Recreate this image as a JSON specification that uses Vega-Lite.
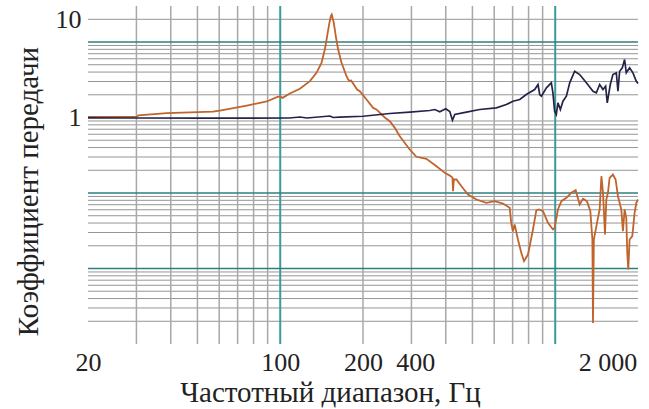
{
  "$schema": "https://vega.github.io/schema/vega-lite/v6.json",
  "width": 550,
  "height": 338,
  "autosize": "none",
  "padding": {"left": 88, "top": 6, "right": 11, "bottom": 65},
  "background": "white",
  "config": {"view": {"stroke": null}, "font": "Liberation Serif"},
  "datasets": {
    "vminor": [{"f": 30}, {"f": 40}, {"f": 50}, {"f": 60}, {"f": 70}, {"f": 80}, {"f": 90}, {"f": 200}, {"f": 300}, {"f": 400}, {"f": 500}, {"f": 600}, {"f": 700}, {"f": 800}, {"f": 900}],
    "vdecade": [{"f": 100}, {"f": 1000}],
    "hminor": [{"v": 0.002}, {"v": 0.003}, {"v": 0.004}, {"v": 0.005}, {"v": 0.006}, {"v": 0.007}, {"v": 0.008}, {"v": 0.009},
               {"v": 0.02}, {"v": 0.03}, {"v": 0.04}, {"v": 0.05}, {"v": 0.06}, {"v": 0.07}, {"v": 0.08}, {"v": 0.09},
               {"v": 0.2}, {"v": 0.3}, {"v": 0.4}, {"v": 0.5}, {"v": 0.6}, {"v": 0.7}, {"v": 0.8}, {"v": 0.9},
               {"v": 2}, {"v": 3}, {"v": 4}, {"v": 5}, {"v": 6}, {"v": 7}, {"v": 8}, {"v": 9}, {"v": 20}],
    "hdecade": [{"v": 0.01}, {"v": 0.1}, {"v": 10}],
    "brown": [
      {"f": 20, "v": 1.02}, {"f": 30.1, "v": 1.02}, {"f": 30.5, "v": 1.07}, {"f": 38.7, "v": 1.14}, {"f": 56.9, "v": 1.2},
      {"f": 60.3, "v": 1.23}, {"f": 75.6, "v": 1.44}, {"f": 89.4, "v": 1.63}, {"f": 97.2, "v": 1.86}, {"f": 99.7, "v": 1.9},
      {"f": 102, "v": 1.82}, {"f": 108.4, "v": 2.08}, {"f": 117.9, "v": 2.4}, {"f": 128.2, "v": 3.03}, {"f": 135.5, "v": 3.91},
      {"f": 141.3, "v": 5.3}, {"f": 145.3, "v": 7.96}, {"f": 148.1, "v": 11.9}, {"f": 150.6, "v": 17.1}, {"f": 152.8, "v": 22},
      {"f": 154, "v": 23.1}, {"f": 156.6, "v": 18}, {"f": 159.3, "v": 11.9}, {"f": 162.4, "v": 7.96}, {"f": 167.1, "v": 5.3},
      {"f": 174.2, "v": 3.52}, {"f": 176.6, "v": 3.19}, {"f": 179.1, "v": 3.03}, {"f": 181, "v": 3.1}, {"f": 190.4, "v": 2.35},
      {"f": 194.7, "v": 2.23}, {"f": 206, "v": 1.73}, {"f": 217.7, "v": 1.34}, {"f": 223.8, "v": 1.28}, {"f": 240, "v": 1.0},
      {"f": 250.3, "v": 0.893}, {"f": 261, "v": 0.73}, {"f": 272.2, "v": 0.565}, {"f": 295.8, "v": 0.377}, {"f": 312.9, "v": 0.302},
      {"f": 340.2, "v": 0.284}, {"f": 370, "v": 0.226}, {"f": 396.6, "v": 0.185}, {"f": 413.6, "v": 0.17}, {"f": 423, "v": 0.16},
      {"f": 425, "v": 0.106}, {"f": 428, "v": 0.151}, {"f": 437.4, "v": 0.151}, {"f": 456, "v": 0.123}, {"f": 481.8, "v": 0.0955},
      {"f": 517, "v": 0.082}, {"f": 562, "v": 0.0742}, {"f": 602, "v": 0.0779}, {"f": 646, "v": 0.0726}, {"f": 683, "v": 0.0637},
      {"f": 693, "v": 0.0383}, {"f": 702, "v": 0.0312}, {"f": 712, "v": 0.0383}, {"f": 732, "v": 0.0242}, {"f": 753, "v": 0.0161},
      {"f": 770, "v": 0.0125}, {"f": 796, "v": 0.0153}, {"f": 812, "v": 0.0219}, {"f": 830, "v": 0.0329}, {"f": 854, "v": 0.0592},
      {"f": 873, "v": 0.0605}, {"f": 903, "v": 0.0574}, {"f": 941, "v": 0.0403}, {"f": 981, "v": 0.0329}, {"f": 995, "v": 0.0346},
      {"f": 1023, "v": 0.0605}, {"f": 1053, "v": 0.0779}, {"f": 1098, "v": 0.0864}, {"f": 1145, "v": 0.1006}, {"f": 1187, "v": 0.109},
      {"f": 1227, "v": 0.0704}, {"f": 1262, "v": 0.0838}, {"f": 1304, "v": 0.0779}, {"f": 1342, "v": 0.0574}, {"f": 1365, "v": 0.0242},
      {"f": 1372, "v": 0.0019}, {"f": 1382, "v": 0.0242}, {"f": 1419, "v": 0.0403}, {"f": 1451, "v": 0.0605}, {"f": 1472, "v": 0.167},
      {"f": 1492, "v": 0.1006}, {"f": 1504, "v": 0.0547}, {"f": 1517, "v": 0.0282}, {"f": 1534, "v": 0.082}, {"f": 1555, "v": 0.1006},
      {"f": 1577, "v": 0.159}, {"f": 1621, "v": 0.1758}, {"f": 1658, "v": 0.151}, {"f": 1691, "v": 0.0907}, {"f": 1739, "v": 0.0605},
      {"f": 1763, "v": 0.0312}, {"f": 1788, "v": 0.0605}, {"f": 1813, "v": 0.0469}, {"f": 1828, "v": 0.0161}, {"f": 1844, "v": 0.0097},
      {"f": 1864, "v": 0.0242}, {"f": 1907, "v": 0.0268}, {"f": 1944, "v": 0.0547}, {"f": 1972, "v": 0.0742}, {"f": 2000, "v": 0.082}
    ],
    "navy": [
      {"f": 20, "v": 0.99}, {"f": 30, "v": 0.985}, {"f": 51, "v": 0.98}, {"f": 108, "v": 0.985}, {"f": 118, "v": 1.015},
      {"f": 125, "v": 0.985}, {"f": 151.5, "v": 1.047}, {"f": 155.8, "v": 1.0}, {"f": 164.7, "v": 1.01}, {"f": 200.2, "v": 1.04},
      {"f": 250.3, "v": 1.13}, {"f": 295.8, "v": 1.176}, {"f": 349.8, "v": 1.238}, {"f": 364.8, "v": 1.276}, {"f": 380.4, "v": 1.19},
      {"f": 399.8, "v": 1.304}, {"f": 413.6, "v": 1.2}, {"f": 423, "v": 0.921}, {"f": 431.2, "v": 1.096}, {"f": 475.6, "v": 1.176},
      {"f": 531.4, "v": 1.276}, {"f": 611, "v": 1.344}, {"f": 664, "v": 1.486}, {"f": 702, "v": 1.644}, {"f": 743, "v": 1.731},
      {"f": 785, "v": 2.017}, {"f": 842, "v": 2.349}, {"f": 866, "v": 2.736}, {"f": 878, "v": 2.017}, {"f": 891, "v": 1.915},
      {"f": 929, "v": 2.474}, {"f": 968, "v": 2.882}, {"f": 981, "v": 2.125}, {"f": 995, "v": 1.212}, {"f": 1009, "v": 1.096},
      {"f": 1023, "v": 1.565}, {"f": 1044, "v": 1.276}, {"f": 1067, "v": 1.644}, {"f": 1098, "v": 1.915}, {"f": 1129, "v": 2.882},
      {"f": 1177, "v": 4.105}, {"f": 1227, "v": 3.711}, {"f": 1298, "v": 2.882}, {"f": 1372, "v": 2.23}, {"f": 1411, "v": 2.125},
      {"f": 1451, "v": 2.736}, {"f": 1492, "v": 2.349}, {"f": 1525, "v": 2.598}, {"f": 1546, "v": 1.565}, {"f": 1586, "v": 2.736},
      {"f": 1621, "v": 3.711}, {"f": 1668, "v": 3.91}, {"f": 1691, "v": 2.23}, {"f": 1715, "v": 4.105}, {"f": 1754, "v": 4.553},
      {"f": 1788, "v": 5.865}, {"f": 1813, "v": 3.91}, {"f": 1864, "v": 4.553}, {"f": 1917, "v": 3.91}, {"f": 1972, "v": 3.026},
      {"f": 2000, "v": 2.82}
    ]
  },
  "layer": [
    {
      "data": {"name": "hminor"},
      "mark": {"type": "rule", "color": "#959595", "strokeWidth": 1},
      "encoding": {
        "y": {
          "field": "v", "type": "quantitative",
          "scale": {"type": "log", "domain": [0.001, 30], "nice": false},
          "axis": {
            "title": "Коэффициент передачи",
            "titleFont": "Liberation Serif", "titleFontSize": 29, "titleFontWeight": "normal", "titleColor": "#222",
            "titleAngle": -90, "titleAlign": "center", "titleBaseline": "alphabetic", "titleX": -51, "titleY": 185,
            "values": [1, 20],
            "labelExpr": "datum.value == 1 ? '1' : '10'",
            "labelFont": "Liberation Serif", "labelFontSize": 26, "labelColor": "#222", "labelPadding": 7,
            "grid": false, "ticks": false, "tickSize": 0, "domain": false, "labelOverlap": false
          }
        }
      }
    },
    {
      "data": {"name": "vminor"},
      "mark": {"type": "rule", "color": "#a8a8a8", "strokeWidth": 1.5},
      "encoding": {
        "x": {
          "field": "f", "type": "quantitative",
          "scale": {"type": "log", "domain": [20, 2000], "nice": false},
          "axis": {
            "title": "Частотный диапазон, Гц",
            "titleFont": "Liberation Serif", "titleFontSize": 29, "titleFontWeight": "normal", "titleColor": "#222",
            "titleAnchor": "middle", "titleAlign": "center", "titleBaseline": "alphabetic", "titleX": 242, "titleY": 57,
            "values": [20, 100, 200, 310, 1550],
            "labelExpr": "datum.value == 310 ? '400' : datum.value == 1550 ? '2 000' : format(datum.value, 'd')",
            "labelFont": "Liberation Serif", "labelFontSize": 26, "labelColor": "#222", "labelPadding": 26, "labelBaseline": "alphabetic",
            "grid": false, "ticks": false, "tickSize": 0, "domain": false, "labelOverlap": false, "labelFlush": false
          }
        }
      }
    },
    {
      "data": {"name": "vdecade"},
      "mark": {"type": "rule", "color": "#3a9a9a", "strokeWidth": 2},
      "encoding": {"x": {"field": "f", "type": "quantitative"}}
    },
    {
      "data": {"name": "hdecade"},
      "mark": {"type": "rule", "color": "#2f7f7f", "strokeWidth": 1.6},
      "encoding": {"y": {"field": "v", "type": "quantitative"}}
    },
    {
      "mark": {"type": "rule", "color": "#40c4c4", "strokeWidth": 1.6},
      "encoding": {"y": {"datum": 1}}
    },
    {
      "mark": {"type": "rule", "color": "#555555", "strokeWidth": 2},
      "encoding": {"y": {"datum": 30}}
    },
    {
      "mark": {"type": "rule", "color": "#333333", "strokeWidth": 1.8},
      "encoding": {"y": {"datum": 0.001}}
    },
    {
      "mark": {"type": "rule", "color": "#7ee87e", "strokeWidth": 2},
      "encoding": {"x": {"datum": 20}}
    },
    {
      "mark": {"type": "rule", "color": "#555555", "strokeWidth": 2},
      "encoding": {"x": {"datum": 2000}, "y": {"datum": 30}, "y2": {"datum": 1}}
    },
    {
      "mark": {"type": "rule", "color": "#ff44ff", "strokeWidth": 2},
      "encoding": {"x": {"datum": 2000}, "y": {"datum": 1}, "y2": {"datum": 0.001}}
    },
    {
      "mark": {"type": "point", "filled": true, "color": "#ff33cc", "size": 18, "opacity": 1},
      "encoding": {"x": {"datum": 2000}, "y": {"datum": 0.81}}
    },
    {
      "mark": {"type": "rule", "color": "#e07070", "strokeWidth": 1.2, "strokeDash": [3, 3]},
      "encoding": {"x": {"datum": 181}, "x2": {"datum": 293}, "y": {"datum": 20}}
    },
    {
      "mark": {"type": "rule", "color": "#a890d0", "strokeWidth": 1},
      "encoding": {"x": {"datum": 200}, "y": {"datum": 20}, "y2": {"datum": 12.6}}
    },
    {
      "data": {"name": "brown"},
      "mark": {"type": "line", "color": "#c0642c", "strokeWidth": 1.8},
      "encoding": {
        "x": {"field": "f", "type": "quantitative"},
        "y": {"field": "v", "type": "quantitative"}
      }
    },
    {
      "data": {"name": "navy"},
      "mark": {"type": "line", "color": "#24244a", "strokeWidth": 1.7},
      "encoding": {
        "x": {"field": "f", "type": "quantitative"},
        "y": {"field": "v", "type": "quantitative"}
      }
    }
  ]
}
